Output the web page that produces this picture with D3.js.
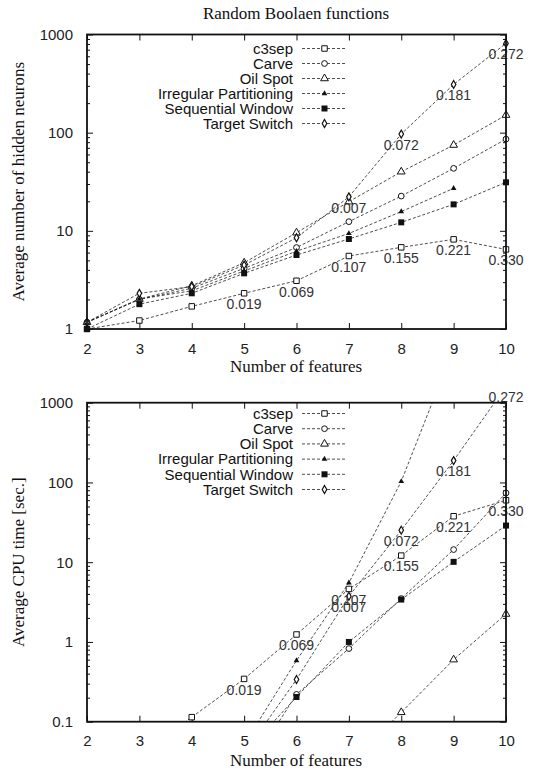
<!DOCTYPE html>
<html>
<head>
<meta charset="utf-8">
<script src="https://cdn.jsdelivr.net/npm/d3@7"></script>
<style>
  body { margin: 0; background: #fff; }
  svg { display: block; }
  .tick text { font-family: "Liberation Sans", Arial, sans-serif; font-size: 15px; fill: #222; }
  .serif { font-family: "Liberation Serif", "Times New Roman", serif; font-size: 17px; fill: #111; }
</style>
</head>
<body>
<div id="chart"></div>
<script>
// x categories
var features = [2, 3, 4, 5, 6, 7, 8, 9, 10];
var seriesNames = ["c3sep", "Carve", "Oil Spot", "Irregular Partitioning", "Sequential Window", "Target Switch"];

// top panel: average number of hidden neurons
var neuronsC3sep        = [1.0, 1.22, 1.7, 2.31, 3.1, 5.54, 6.79, 8.19, 6.47];
var neuronsCarve        = [1.17, 2.0, 2.6, 4.15, 6.76, 12.4, 22.6, 43.3, 86];
var neuronsOilSpot      = [1.17, 2.02, 2.76, 4.73, 9.57, 19.8, 40, 74.8, 151];
var neuronsIrregular    = [1.17, 2.02, 2.45, 3.9, 6.2, 9.4, 15.7, 27.1, null];
var neuronsSeqWindow    = [1.0, 1.79, 2.31, 3.69, 5.67, 8.26, 12.2, 18.6, 31.2];
var neuronsTargetSwitch = [1.17, 2.31, 2.7, 4.48, 8.5, 22.2, 96.8, 310, 812];

// bottom panel: average CPU time [sec.]
var cpuC3sep        = [null, 0.038, 0.114, 0.344, 1.24, 4.62, 12.1, 37.7, 59.8];
var cpuCarve        = [null, null, null, 0.021, 0.22, 0.826, 3.5, 14.4, 73.8];
var cpuOilSpot      = [null, null, null, null, null, 0.029, 0.131, 0.6, 2.24];
var cpuIrregular    = [null, null, null, 0.052, 0.585, 5.5, 103, 4800, null];
var cpuSeqWindow    = [null, null, null, 0.04, 0.204, 1.0, 3.4, 10.1, 28.8];
var cpuTargetSwitch = [null, null, null, 0.04, 0.338, 3.74, 25.2, 188, 1600];

// point annotations (c3sep and Target Switch)
var c3sepNotes        = ["", "", "", "0.019", "0.069", "0.107", "0.155", "0.221", "0.330"];
var targetSwitchNotes = ["", "", "", "", "", "0.007", "0.072", "0.181", "0.272"];

var xTicks = [2, 3, 4, 5, 6, 7, 8, 9, 10];
var topYTicks = [1, 10, 100, 1000];
var bottomYTicks = [0.1, 1, 10, 100, 1000];

var svg = d3.select("#chart").append("svg")
    .attr("width", 541)
    .attr("height", 772);

// marker drawing per series
function drawMarker(sel, i) {
  var sym = d3.symbol();
  if (i === 0) sel.append("path").attr("d", sym.type(d3.symbolSquare).size(30)()).attr("fill", "#fff").attr("stroke", "#111").attr("stroke-width", 1);
  if (i === 1) sel.append("path").attr("d", sym.type(d3.symbolCircle).size(26)()).attr("fill", "#fff").attr("stroke", "#111").attr("stroke-width", 1);
  if (i === 2) sel.append("path").attr("d", sym.type(d3.symbolTriangle).size(26)()).attr("fill", "#fff").attr("stroke", "#111").attr("stroke-width", 1);
  if (i === 3) sel.append("path").attr("d", sym.type(d3.symbolTriangle).size(14)()).attr("fill", "#111");
  if (i === 4) sel.append("path").attr("d", sym.type(d3.symbolSquare).size(36)()).attr("fill", "#111");
  if (i === 5) sel.append("path").attr("d", sym.type(d3.symbolDiamond).size(18)()).attr("fill", "#fff").attr("stroke", "#111").attr("stroke-width", 1.2);
}

function panel(opts) {
  var x = d3.scaleLinear().domain([2, 10]).range([87, 506]);
  var y = d3.scaleLog().domain(opts.domain).range([opts.bottom, opts.top]);
  var g = svg.append("g");
  var clipId = "clip" + opts.id;

  g.append("clipPath").attr("id", clipId)
    .append("rect")
    .attr("x", x.range()[0]).attr("y", opts.top)
    .attr("width", x.range()[1] - x.range()[0]).attr("height", opts.bottom - opts.top);

  // minor ticks on log axes
  var minor = [];
  var lo = Math.log10(opts.domain[0]), hi = Math.log10(opts.domain[1]);
  for (var e = lo; e < hi; e++) {
    for (var k = 2; k <= 9; k++) minor.push(k * Math.pow(10, e));
  }
  g.append("g").attr("transform", "translate(87,0)")
    .call(d3.axisLeft(y).tickValues(minor).tickSize(-3).tickFormat(""))
    .call(function(a) { a.select(".domain").remove(); a.selectAll("line").attr("stroke", "#111"); });
  g.append("g").attr("transform", "translate(506,0)")
    .call(d3.axisRight(y).tickValues(minor).tickSize(-3).tickFormat(""))
    .call(function(a) { a.select(".domain").remove(); a.selectAll("line").attr("stroke", "#111"); });

  // major ticks
  g.append("g").attr("transform", "translate(87,0)")
    .call(d3.axisLeft(y).tickValues(opts.yTicks).tickSize(-6).tickPadding(14).tickFormat(function(d) { return String(d); }))
    .call(function(a) { a.select(".domain").remove(); a.selectAll("line").attr("stroke", "#111"); });
  g.append("g").attr("transform", "translate(506,0)")
    .call(d3.axisRight(y).tickValues(opts.yTicks).tickSize(-6).tickFormat(""))
    .call(function(a) { a.select(".domain").remove(); a.selectAll("line").attr("stroke", "#111"); });
  g.append("g").attr("transform", "translate(0," + opts.bottom + ")")
    .call(d3.axisBottom(x).tickValues(xTicks).tickSize(-6).tickPadding(14).tickFormat(d3.format("d")))
    .call(function(a) { a.select(".domain").remove(); a.selectAll("line").attr("stroke", "#111"); });
  g.append("g").attr("transform", "translate(0," + opts.top + ")")
    .call(d3.axisTop(x).tickValues(xTicks).tickSize(-6).tickFormat(""))
    .call(function(a) { a.select(".domain").remove(); a.selectAll("line").attr("stroke", "#111"); });

  // series lines
  var line = d3.line()
    .defined(function(d) { return d != null; })
    .x(function(d, i) { return x(features[i]); })
    .y(function(d) { return y(d); });

  var lines = g.append("g").attr("clip-path", "url(#" + clipId + ")");
  opts.series.forEach(function(vals, si) {
    lines.append("path")
      .attr("d", line(vals))
      .attr("fill", "none")
      .attr("stroke", "#222")
      .attr("stroke-width", 0.8)
      .attr("stroke-dasharray", "3,2");
  });

  opts.series.forEach(function(vals, si) {
    vals.forEach(function(v, i) {
      if (v == null || v < opts.domain[0] || v > opts.domain[1]) return;
      var m = g.append("g").attr("transform", "translate(" + x(features[i]) + "," + y(v) + ")");
      drawMarker(m, si);
    });
  });

  // annotations
  function notes(vals, labels) {
    vals.forEach(function(v, i) {
      if (!labels[i]) return;
      g.append("text")
        .attr("x", x(features[i]))
        .attr("y", y(v) + 11)
        .attr("dy", "0.35em")
        .attr("text-anchor", "middle")
        .style("font-family", "Liberation Sans, Arial, sans-serif")
        .style("font-size", "14px")
        .style("fill", "#333")
        .text(labels[i]);
    });
  }
  notes(opts.series[0], c3sepNotes);
  notes(opts.series[5], targetSwitchNotes);

  // legend
  seriesNames.forEach(function(name, i) {
    var ly = opts.legendTop + i * opts.legendStep;
    g.append("text")
      .attr("x", 293).attr("y", ly).attr("dy", "0.35em")
      .attr("text-anchor", "end")
      .style("font-family", "Liberation Sans, Arial, sans-serif")
      .style("font-size", "15px")
      .style("fill", "#111")
      .text(name);
    g.append("line")
      .attr("x1", 302).attr("x2", 347).attr("y1", ly).attr("y2", ly)
      .attr("stroke", "#222").attr("stroke-width", 0.8).attr("stroke-dasharray", "3,2");
    drawMarker(g.append("g").attr("transform", "translate(324.5," + ly + ")"), i);
  });

  // frame
  g.append("rect")
    .attr("x", 87).attr("y", opts.top)
    .attr("width", 506 - 87).attr("height", opts.bottom - opts.top)
    .attr("fill", "none").attr("stroke", "#111").attr("stroke-width", 1.8);

  // axis titles
  g.append("text").attr("class", "serif")
    .attr("x", 296).attr("y", opts.xLabelY)
    .attr("text-anchor", "middle")
    .text("Number of features");
  g.append("text").attr("class", "serif")
    .attr("transform", "translate(24," + ((opts.top + opts.bottom) / 2) + ") rotate(-90)")
    .attr("text-anchor", "middle")
    .text(opts.yLabel);
}

svg.append("text").attr("class", "serif")
  .attr("x", 296).attr("y", 19)
  .attr("text-anchor", "middle")
  .text("Random Boolaen functions");

panel({
  id: "top", domain: [1, 1000], top: 34.5, bottom: 329, yTicks: topYTicks,
  series: [neuronsC3sep, neuronsCarve, neuronsOilSpot, neuronsIrregular, neuronsSeqWindow, neuronsTargetSwitch],
  legendTop: 48.5, legendStep: 15, xLabelY: 372,
  yLabel: "Average number of hidden neurons"
});

panel({
  id: "bottom", domain: [0.1, 1000], top: 402.7, bottom: 721.7, yTicks: bottomYTicks,
  series: [cpuC3sep, cpuCarve, cpuOilSpot, cpuIrregular, cpuSeqWindow, cpuTargetSwitch],
  legendTop: 413.5, legendStep: 15.2, xLabelY: 766,
  yLabel: "Average CPU time [sec.]"
});
</script>
</body>
</html>
